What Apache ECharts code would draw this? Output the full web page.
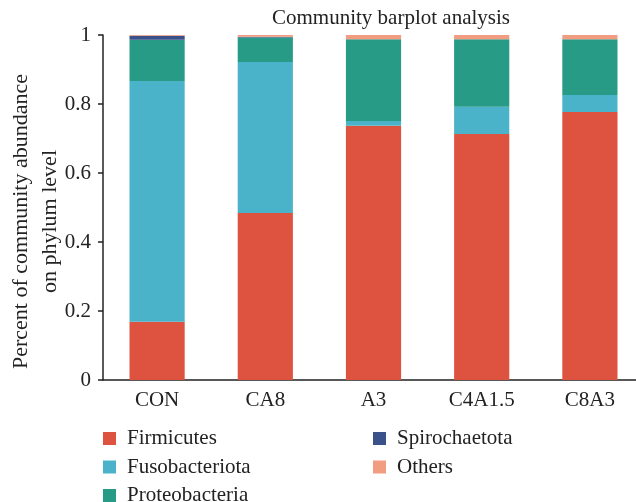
<!DOCTYPE html>
<html>
<head>
<meta charset="utf-8">
<script src="https://cdn.jsdelivr.net/npm/echarts@6/dist/echarts.min.js"></script>
<style>
  html, body { margin: 0; padding: 0; background: #fff; }
  #chart { width: 636px; height: 502px; }
</style>
</head>
<body>
<div id="chart"></div>
<script>
// Sample groups and relative phylum abundance per group
const groups = ['CON', 'CA8', 'A3', 'C4A1.5', 'C8A3'];
const firmicutes     = [0.169, 0.484, 0.737, 0.713, 0.777];
const fusobacteriota = [0.698, 0.438, 0.014, 0.079, 0.049];
const proteobacteria = [0.119, 0.071, 0.237, 0.196, 0.162];
const spirochaetota  = [0.012, 0.002, 0.000, 0.000, 0.000];
const others         = [0.002, 0.005, 0.012, 0.012, 0.012];

const phyla = [
  { name: 'Firmicutes',     data: firmicutes,     color: '#DD5340' },
  { name: 'Fusobacteriota', data: fusobacteriota, color: '#4AB3C9' },
  { name: 'Proteobacteria', data: proteobacteria, color: '#279B85' },
  { name: 'Spirochaetota',  data: spirochaetota,  color: '#3B518A' },
  { name: 'Others',         data: others,         color: '#F29C82' }
];

const FONT = "'Liberation Serif', 'DejaVu Serif', serif";
const INK = '#222';
const SIZE = 21;

const chart = echarts.init(document.getElementById('chart'), null, { renderer: 'canvas' });

const legendBase = {
  orient: 'vertical',
  top: 428,
  height: 120,
  padding: 0,
  itemWidth: 13,
  itemHeight: 13,
  itemGap: 7.5,
  icon: 'rect',
  textStyle: { fontFamily: FONT, fontSize: SIZE, color: INK, padding: [0, 0, 0, 6] }
};

chart.setOption({
  animation: false,
  textStyle: { fontFamily: FONT },
  title: {
    text: 'Community barplot analysis',
    left: 391,
    textAlign: 'center',
    top: 8,
    padding: 0,
    textStyle: { fontFamily: FONT, fontSize: SIZE, fontWeight: 'normal', color: INK }
  },
  legend: [
    Object.assign({ data: ['Firmicutes', 'Fusobacteriota', 'Proteobacteria'], left: 103 }, legendBase),
    Object.assign({ data: ['Spirochaetota', 'Others'], left: 373 }, legendBase)
  ],
  grid: { left: 103, top: 35, bottom: 122, width: 541, containLabel: false, outerBoundsMode: 'none' },
  xAxis: {
    type: 'category',
    data: groups,
    axisLine: { lineStyle: { color: INK, width: 1.5 } },
    axisTick: { alignWithLabel: true, length: 5, lineStyle: { color: INK, width: 1.5 } },
    axisLabel: { fontFamily: FONT, fontSize: SIZE, color: INK, margin: 10 }
  },
  yAxis: {
    type: 'value',
    min: 0,
    max: 1,
    interval: 0.2,
    name: 'Percent of community abundance\non phylum level',
    nameLocation: 'middle',
    nameGap: 38,
    nameMoveOverlap: false,
    nameTextStyle: { fontFamily: FONT, fontSize: 22, color: INK, lineHeight: 29, padding: [0, 28, 0, 0] },
    splitLine: { show: false },
    axisLine: { show: true, lineStyle: { color: INK, width: 1.5 } },
    axisTick: { show: true, length: 5, lineStyle: { color: INK, width: 1.5 } },
    axisLabel: { fontFamily: FONT, fontSize: SIZE, color: INK, margin: 12 }
  },
  series: phyla.map(p => ({
    name: p.name,
    type: 'bar',
    stack: 'total',
    barWidth: '51%',
    data: p.data,
    itemStyle: { color: p.color },
    emphasis: { disabled: true }
  }))
});
</script>
</body>
</html>
